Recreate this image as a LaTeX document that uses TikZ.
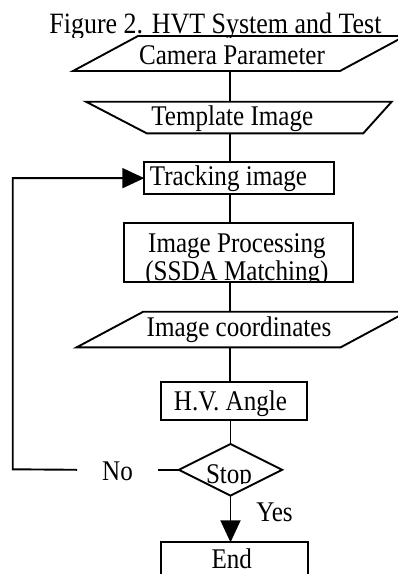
\documentclass[tikz,border=0pt]{standalone}
\usepackage{fontspec}
\setmainfont{Liberation Serif}[FakeStretch=0.88]
\usetikzlibrary{arrows.meta,shapes.geometric}
\begin{document}
\begin{tikzpicture}[x=1pt,y=-1pt,
  line width=1.9pt,
  lbl/.style={font=\fontsize{28.5}{28}\selectfont, inner sep=0pt, anchor=base},
  boxshape/.style={draw, rectangle, inner sep=0pt, outer sep=0pt},
  tip/.style={-{Triangle[length=22pt,width=20pt]}}]
\useasboundingbox (0,0) rectangle (397,574);

% title
\begin{scope}
\clip (0,0) rectangle (397,37);
\node[lbl, font=\fontsize{29.5}{29}\selectfont] (title) at (215.5,33) {Figure 2. HVT System and Test};
\end{scope}

% Camera parameter
\draw (73,71) -- (138,36) -- (405,36) -- (340,71) -- cycle;
\coordinate (camS) at (230,71);
\node[lbl] (cam) at (232,64) {Camera Parameter};

% Template image
\draw (86,101.7) -- (391.7,101.7) -- (363.3,133.3) -- (146.7,133.3) -- cycle;
\coordinate (tmpN) at (230,101.7);
\coordinate (tmpS) at (230,133.3);
\node[lbl] (tmp) at (232.3,125.7) {Template Image};
\draw (camS) -- (tmpN);

% Tracking image
\node[boxshape, minimum width=190pt, minimum height=31.7pt] (track) at (239.3,178.15) {};
\node[lbl] (trackt) at (228.5,185) {Tracking image};
\draw (tmpS) -- (tmpS |- track.north);

% Image processing
\node[boxshape, minimum width=228.4pt, minimum height=58.4pt] (proc) at (238.5,252.5) {};
\begin{scope}
\clip (proc.north west) rectangle (proc.south east);
\node[lbl] (proct1) at (237,252) {Image Processing};
\node[lbl] (proct2) at (237,280) {(SSDA Matching)};
\end{scope}
\draw (tmpS |- track.south) -- (tmpS |- proc.north);

% Image coordinates
\draw (76.7,347.3) -- (143.3,311.7) -- (407,311.7) -- (340.7,347.3) -- cycle;
\coordinate (coN) at (230,311.7);
\coordinate (coS) at (230,347.3);
\node[lbl] (co) at (239,336.7) {Image coordinates};
\draw (coN |- proc.south) -- (coN);

% H.V. Angle
\node[boxshape, minimum width=146pt, minimum height=38.3pt] (hv) at (233.7,400.85) {};
\node[lbl] (hvt) at (230.5,410) {H.V. Angle};
\draw (coS) -- (coS |- hv.north);

% Stop
\node[draw, diamond, inner sep=0pt, outer sep=0pt, minimum width=103.3pt, minimum height=51.7pt] (stop) at (230.5,469.8) {};
\begin{scope}
\clip (150,440) rectangle (300,483);
\node[lbl] (stopt) at (229,483) {Stop};
\end{scope}
\draw (hv.south -| stop.north) -- (stop.north);

% End
\node[boxshape, minimum width=147.6pt, minimum height=60pt] (end) at (234.5,572.3) {};
\node[lbl] (endt) at (231.7,568) {End};
\draw[tip] (stop.south) -- (stop.south |- end.north);

% Yes / No
\node[lbl] (yes) at (274.5,521.7) {Yes};
\node[lbl, minimum width=79pt] (no) at (117.5,480) {No};
\draw (stop.west) -- (stop.west -| no.east);
\coordinate (loopL) at (12.7,469.3);
\draw[tip] (stop.west -| no.west) -- (loopL) |- (track.west);
\end{tikzpicture}
\end{document}
